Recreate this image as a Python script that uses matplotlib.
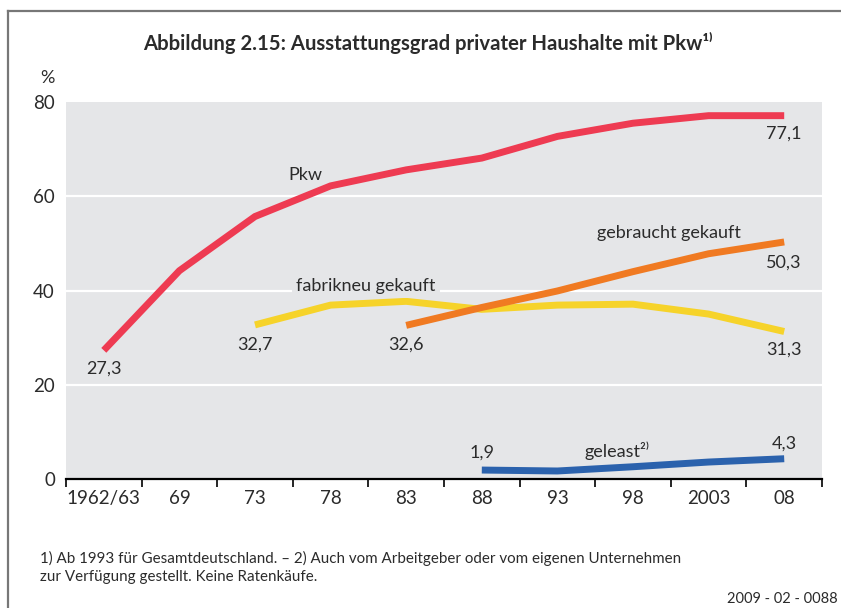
import matplotlib
matplotlib.use("Agg")
import matplotlib.pyplot as plt
from matplotlib.lines import Line2D

plt.rcParams['font.family'] = ['Lato', 'DejaVu Sans']

# Daten
jahre = ["1962/63", "69", "73", "78", "83", "88", "93", "98", "2003", "08"]
pkw = [27.3, 44.2, 55.7, 62.2, 65.6, 68.1, 72.7, 75.5, 77.1, 77.1]
fabrikneu = [None, None, 32.7, 36.9, 37.7, 36.0, 36.9, 37.1, 35.0, 31.3]
gebraucht = [None, None, None, None, 32.6, 36.4, 39.9, 44.0, 47.8, 50.3]
geleast = [None, None, None, None, None, 1.9, 1.7, 2.6, 3.6, 4.3]

farbe_pkw = "#EE3B52"
farbe_fabrik = "#F6D32A"
farbe_gebraucht = "#F07A22"
farbe_geleast = "#2B62AD"
hintergrund = "#E5E6E8"
textfarbe = "#2B2B2B"

fig = plt.figure(figsize=(8.41, 6.08), dpi=100)
ax = fig.add_axes([66 / 841, 129 / 608, 756 / 841, 377 / 608])
ax.set_facecolor(hintergrund)


def serie(werte, farbe):
    xs = [i for i, v in enumerate(werte) if v is not None]
    ys = [v for v in werte if v is not None]
    ax.plot(xs, ys, color=farbe, lw=5, solid_capstyle="butt", solid_joinstyle="miter", zorder=3)


# weisse Gitterlinien
for g in [20, 40, 60]:
    ax.axhline(g, color="white", lw=1.6, zorder=1)

serie(fabrikneu, farbe_fabrik)
serie(gebraucht, farbe_gebraucht)
serie(pkw, farbe_pkw)
serie(geleast, farbe_geleast)

ax.set_xlim(-0.5, 9.5)
ax.set_ylim(0, 80)
ax.set_yticks([0, 20, 40, 60, 80])
ax.set_yticklabels(["0", "20", "40", "60", "80"], fontsize=13.5, color=textfarbe)
ax.tick_params(axis="y", length=0, pad=8)

ax.set_xticks([i - 0.5 for i in range(11)])
ax.set_xticklabels([])
ax.set_xticks(range(10), minor=True)
ax.set_xticklabels(jahre, minor=True, fontsize=13.5, color=textfarbe)
ax.tick_params(axis="x", which="major", direction="out", length=6, width=1.2, color="black")
ax.tick_params(axis="x", which="minor", length=0, pad=8)

for s in ["top", "right", "left"]:
    ax.spines[s].set_visible(False)
ax.spines["bottom"].set_color("black")
ax.spines["bottom"].set_linewidth(1.6)

# Beschriftungen
kw = dict(fontsize=13, color=textfarbe, ha="center", va="center", zorder=4)
ax.text(2.67, 64.5, "Pkw", **kw)
ax.text(3.47, 41.0, "fabrikneu gekauft",
        bbox=dict(facecolor=hintergrund, edgecolor="none", pad=3), **kw)
ax.text(7.48, 52.2, "gebraucht gekauft", **kw)
ax.text(6.79, 6.0, "geleast²⁾", **kw)
ax.text(0, 23.4, "27,3", **kw)
ax.text(2, 28.5, "32,7", **kw)
ax.text(4, 28.5, "32,6", **kw)
ax.text(9, 73.3, "77,1", **kw)
ax.text(9, 46.0, "50,3", **kw)
ax.text(9, 27.5, "31,3", **kw)
ax.text(5, 5.6, "1,9", **kw)
ax.text(9, 7.5, "4,3", **kw)

fig.text(47 / 841, 1 - 78 / 608, "%", fontsize=13, color=textfarbe, ha="center", va="center")

fig.text(428 / 841, 1 - 43 / 608, "Abbildung 2.15: Ausstattungsgrad privater Haushalte mit Pkw¹⁾",
         fontsize=14.6, fontweight="bold", color=textfarbe, ha="center", va="center")

fig.text(40 / 841, 1 - 558 / 608,
         "1) Ab 1993 für Gesamtdeutschland. – 2) Auch vom Arbeitgeber oder vom eigenen Unternehmen",
         fontsize=10.9, color=textfarbe, ha="left", va="center")
fig.text(40 / 841, 1 - 577 / 608, "zur Verfügung gestellt. Keine Ratenkäufe.",
         fontsize=10.9, color=textfarbe, ha="left", va="center")
fig.text(838 / 841, 1 - 599 / 608, "2009 - 02 - 0088",
         fontsize=10.5, color=textfarbe, ha="right", va="center")

# Rahmen oben und links
fig.add_artist(Line2D([7.5 / 841, 7.5 / 841], [0, 1 - 11 / 608], transform=fig.transFigure,
                      color="#777777", lw=1.6))
fig.add_artist(Line2D([7.5 / 841, 1], [1 - 11 / 608, 1 - 11 / 608], transform=fig.transFigure,
                      color="#777777", lw=1.6))

fig.savefig("out.png", dpi=100)
